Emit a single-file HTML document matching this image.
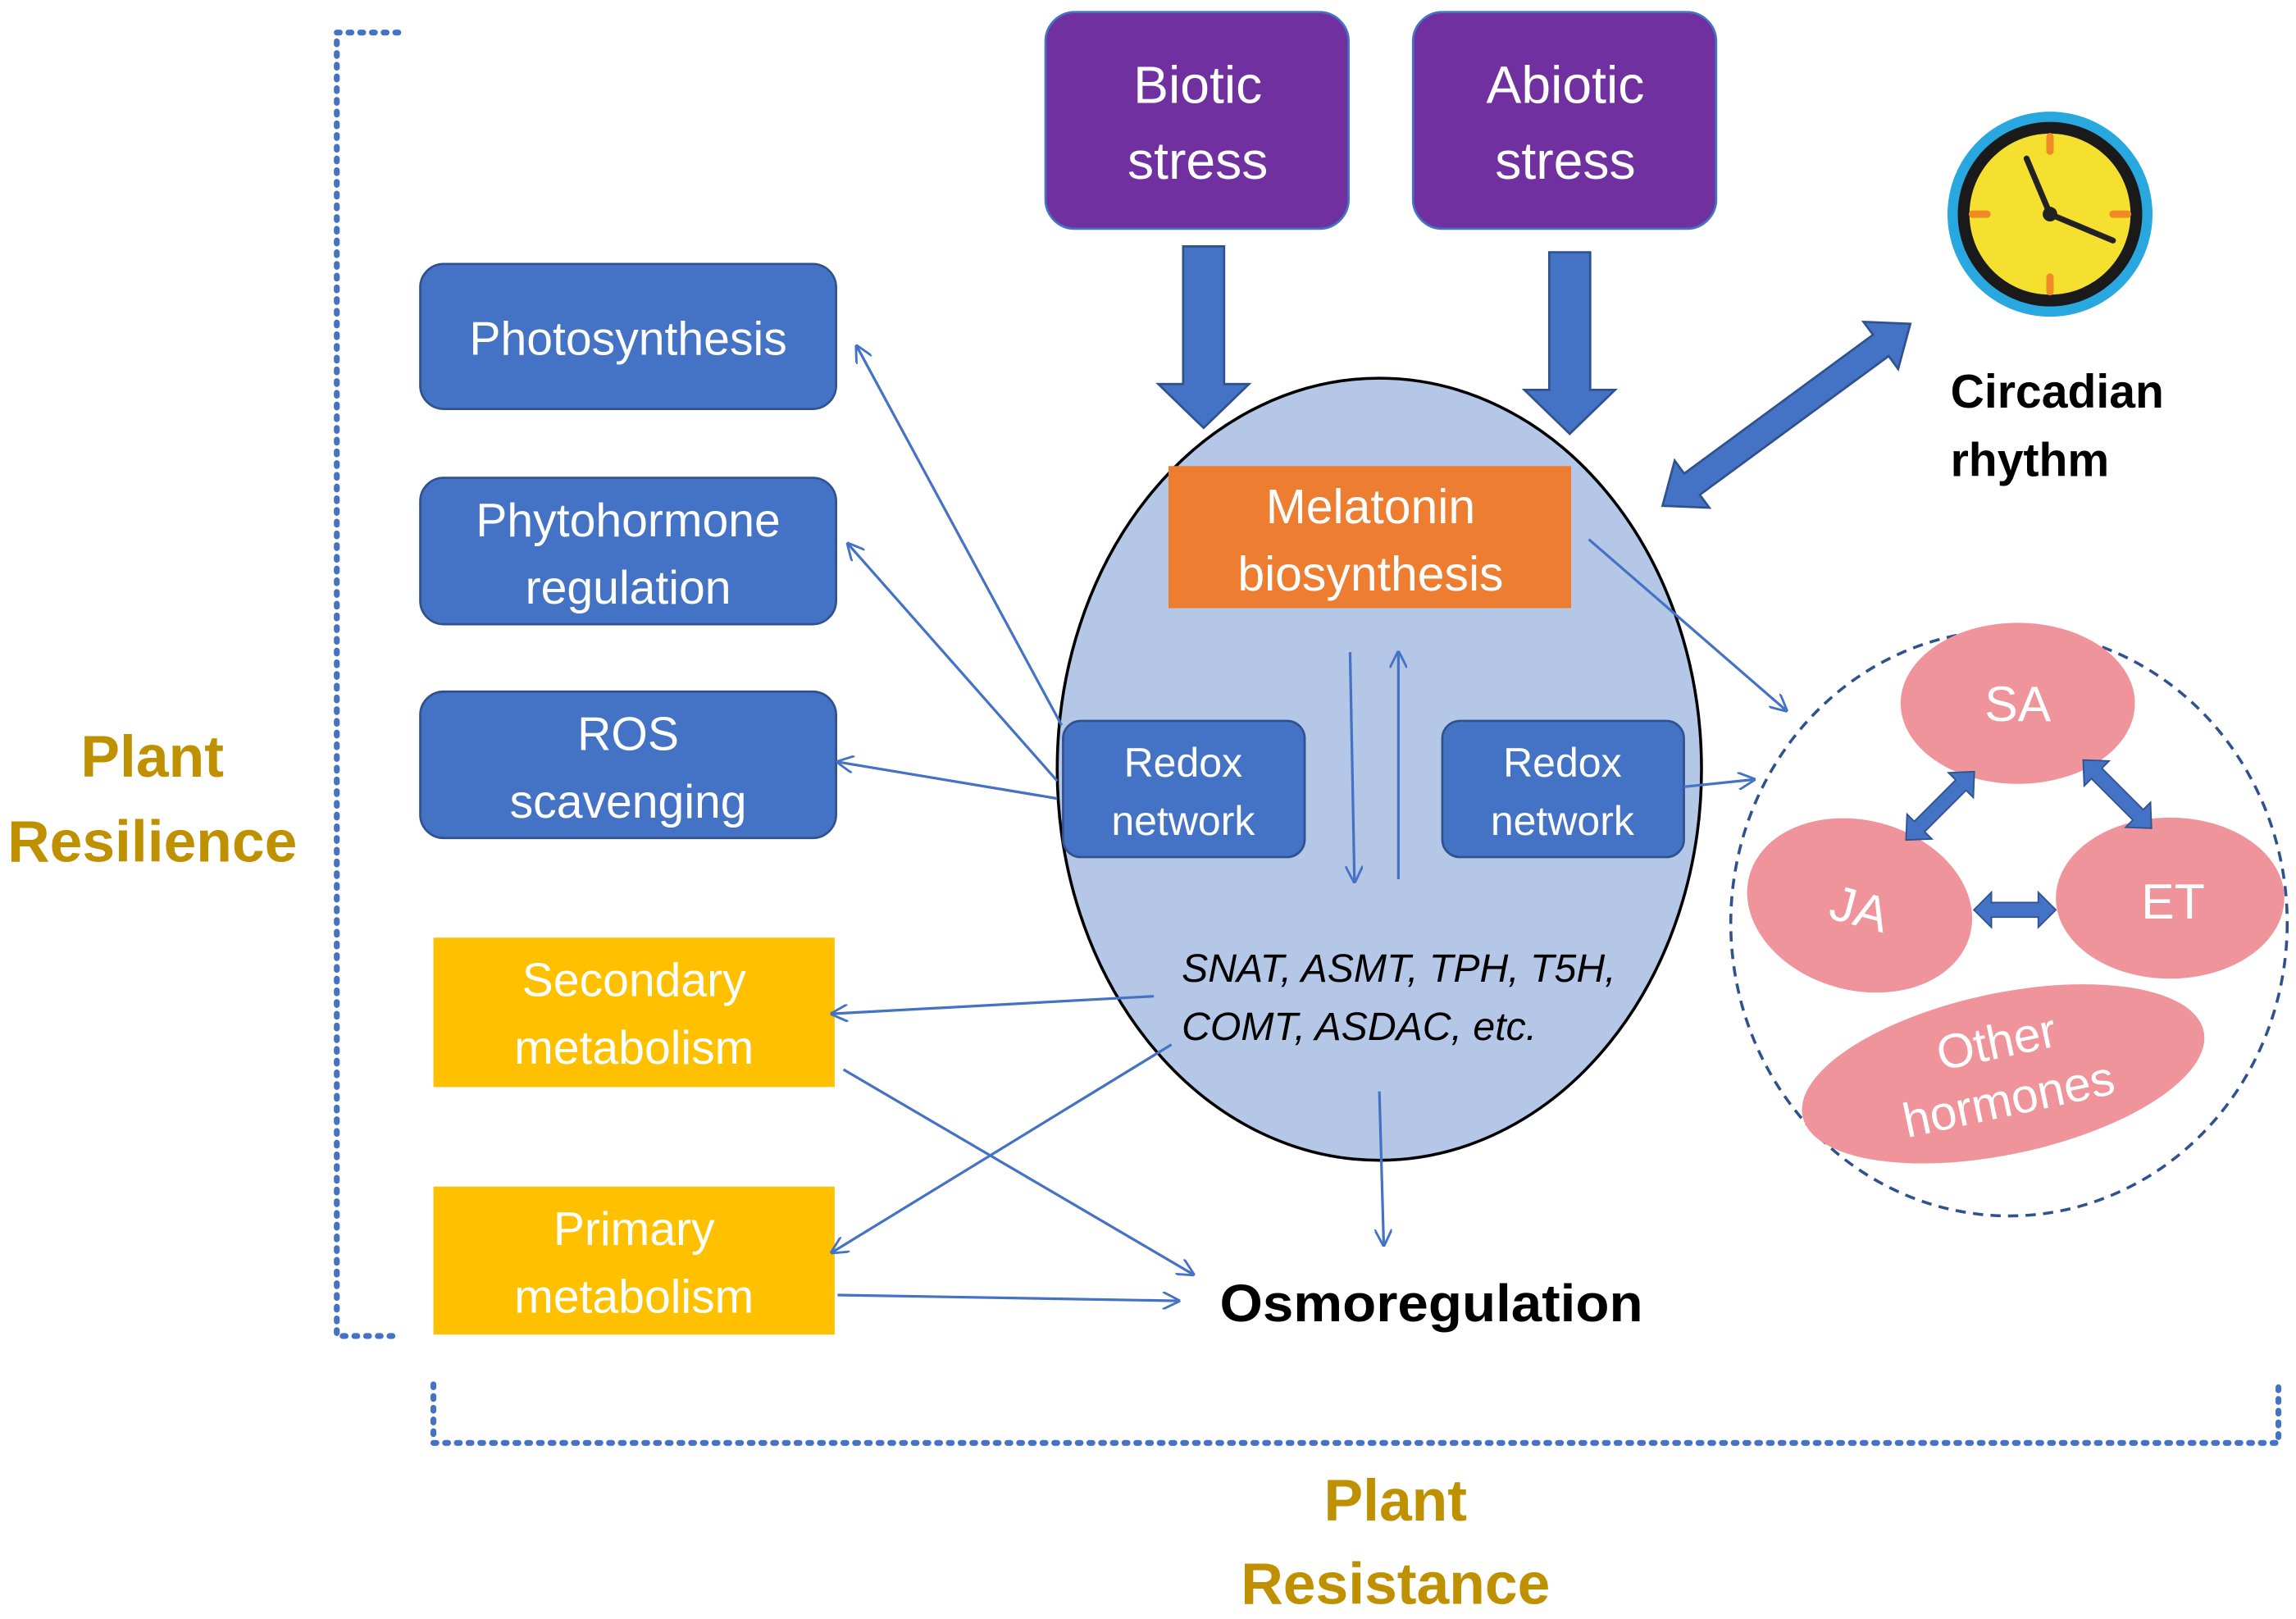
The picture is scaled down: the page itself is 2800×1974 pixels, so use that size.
<!DOCTYPE html>
<html><head><meta charset="utf-8"><style>
html,body{margin:0;padding:0;background:#fff;}
svg{display:block;}
text{font-family:"Liberation Sans","DejaVu Sans",sans-serif;}
</style></head><body>
<svg width="2800" height="1974" viewBox="0 0 1568 1105" xmlns="http://www.w3.org/2000/svg">
<defs>
<marker id="ah" markerWidth="12" markerHeight="12" refX="11" refY="6" orient="auto" markerUnits="userSpaceOnUse">
<path d="M0,0 L12,6 L0,12" fill="none" stroke="#4472c4" stroke-width="1.6"/>
</marker>
</defs>
<!-- brackets -->
<g stroke="#4472c4" stroke-width="4" stroke-dasharray="2,6" stroke-linecap="round" fill="none">
<path d="M272,22 L230,22 L230,912 L272,912"/>
<path d="M296,945 L296,985 L1556,985 L1556,943"/>
</g>
<g fill="#bf9000" font-weight="bold" font-size="40" text-anchor="middle">
<text x="104" y="530">Plant</text><text x="104" y="588">Resilience</text>
<text x="953" y="1038">Plant</text><text x="953" y="1095">Resistance</text>
</g>
<!-- stress boxes -->
<rect x="714" y="8" width="207" height="148" rx="20" fill="#7030a0" stroke="#4472c4" stroke-width="1.5"/>
<rect x="965" y="8" width="207" height="148" rx="20" fill="#7030a0" stroke="#4472c4" stroke-width="1.5"/>
<g fill="#fff" font-size="36" text-anchor="middle">
<text x="818" y="70">Biotic</text><text x="818" y="122">stress</text>
<text x="1069" y="70">Abiotic</text><text x="1069" y="122">stress</text>
</g>
<!-- big arrows -->
<path d="M808,168 L836,168 L836,262 L853,262 L822,292 L791,262 L808,262Z" fill="#4472c4" stroke="#2f528f" stroke-width="1.5"/>
<path d="M1058,172 L1086,172 L1086,266 L1103,266 L1072,296 L1041,266 L1058,266Z" fill="#4472c4" stroke="#2f528f" stroke-width="1.5"/>
<!-- ellipse -->
<ellipse cx="942" cy="525" rx="220" ry="267" fill="#b4c7e7" stroke="#000" stroke-width="2"/>
<rect x="798" y="318" width="275" height="97" fill="#ed7d31"/>
<g fill="#fff" font-size="33" text-anchor="middle">
<text x="936" y="357">Melatonin</text><text x="936" y="403">biosynthesis</text>
</g>
<rect x="726" y="492" width="165" height="93" rx="12" fill="#4472c4" stroke="#2f528f" stroke-width="1.5"/>
<rect x="985" y="492" width="165" height="93" rx="12" fill="#4472c4" stroke="#2f528f" stroke-width="1.5"/>
<g fill="#fff" font-size="28" text-anchor="middle">
<text x="808" y="530">Redox</text><text x="808" y="570">network</text>
<text x="1067" y="530">Redox</text><text x="1067" y="570">network</text>
</g>
<g font-size="27" font-style="italic" fill="#000">
<text x="807" y="670">SNAT, ASMT, TPH, T5H,</text>
<text x="807" y="710">COMT, ASDAC, etc.</text>
</g>
<!-- left boxes -->
<g fill="#4472c4" stroke="#2f528f" stroke-width="1.5">
<rect x="287" y="180" width="284" height="99" rx="16"/>
<rect x="287" y="326" width="284" height="100" rx="16"/>
<rect x="287" y="472" width="284" height="100" rx="16"/>
</g>
<rect x="296" y="640" width="274" height="102" fill="#ffc000"/>
<rect x="296" y="810" width="274" height="101" fill="#ffc000"/>
<g fill="#fff" font-size="32" text-anchor="middle">
<text x="429" y="242">Photosynthesis</text>
<text x="429" y="366">Phytohormone</text><text x="429" y="412">regulation</text>
<text x="429" y="512">ROS</text><text x="429" y="558">scavenging</text>
<text x="433" y="680">Secondary</text><text x="433" y="726">metabolism</text>
<text x="433" y="850">Primary</text><text x="433" y="896">metabolism</text>
</g>
<text x="833" y="902" font-size="36" font-weight="bold" fill="#000" textLength="289" lengthAdjust="spacingAndGlyphs">Osmoregulation</text>
<!-- clock -->
<circle cx="1400" cy="146" r="70" fill="#29a8e0"/>
<circle cx="1400" cy="146" r="63" fill="#1a1a1a"/>
<circle cx="1400" cy="146" r="55" fill="#f5e030"/>
<g stroke="#f08a24" stroke-width="5" stroke-linecap="round">
<line x1="1400" y1="93" x2="1400" y2="103"/><line x1="1400" y1="189" x2="1400" y2="199"/>
<line x1="1347" y1="146" x2="1357" y2="146"/><line x1="1443" y1="146" x2="1453" y2="146"/>
</g>
<g stroke="#222" stroke-width="4" stroke-linecap="round">
<line x1="1400" y1="146" x2="1384" y2="108"/><line x1="1400" y1="146" x2="1443" y2="164"/>
</g>
<circle cx="1400" cy="146" r="5" fill="#222"/>
<g font-size="32" font-weight="bold" fill="#000">
<text x="1332" y="278">Circadian</text><text x="1332" y="325">rhythm</text>
</g>
<!-- double thick arrow -->
<g transform="translate(1220,283) rotate(-36.3)">
<path d="M-105,0 L-80,-20 L-80,-9 L80,-9 L80,-20 L105,0 L80,20 L80,9 L-80,9 L-80,20Z" fill="#4472c4" stroke="#2f528f" stroke-width="1.5"/>
</g>
<!-- hormones -->
<ellipse cx="1372" cy="630" rx="190" ry="200" fill="none" stroke="#2f528f" stroke-width="2" stroke-dasharray="7,5"/>
<g fill="#f0949c">
<ellipse cx="1378" cy="480" rx="80" ry="55"/>
<ellipse cx="1270" cy="618" rx="78" ry="58" transform="rotate(15 1270 618)"/>
<ellipse cx="1482" cy="613" rx="78" ry="55"/>
<ellipse cx="1368" cy="733" rx="140" ry="55" transform="rotate(-12 1368 733)"/>
</g>
<g fill="#fff" font-size="34" text-anchor="middle">
<text x="1378" y="492">SA</text>
<text x="1270" y="632" transform="rotate(15 1270 620)">JA</text>
<text x="1484" y="627">ET</text>
<g transform="rotate(-12 1368 733)"><text x="1368" y="722" font-size="33">Other</text><text x="1368" y="762" font-size="33">hormones</text></g>
</g>
<g fill="#4472c4" stroke="#2f528f" stroke-width="1">
<g transform="translate(1325,550) rotate(-45)"><path d="M-33,0 L-20,-12 L-20,-5 L20,-5 L20,-12 L33,0 L20,12 L20,5 L-20,5 L-20,12Z"/></g>
<g transform="translate(1446,542) rotate(45)"><path d="M-33,0 L-20,-12 L-20,-5 L20,-5 L20,-12 L33,0 L20,12 L20,5 L-20,5 L-20,12Z"/></g>
<g transform="translate(1376,621)"><path d="M-28,0 L-16,-12 L-16,-5 L16,-5 L16,-12 L28,0 L16,12 L16,5 L-16,5 L-16,12Z"/></g>
</g>
<!-- thin arrows -->
<g stroke="#4472c4" stroke-width="1.8" fill="none" marker-end="url(#ah)">
<line x1="725" y1="495" x2="585" y2="236"/>
<line x1="722" y1="533" x2="579" y2="371"/>
<line x1="722" y1="545" x2="572" y2="520"/>
<line x1="1085" y1="368" x2="1220" y2="485"/>
<line x1="1150" y1="537" x2="1198" y2="532"/>
<line x1="922" y1="445" x2="925" y2="602"/>
<line x1="955" y1="600" x2="955" y2="445"/>
<line x1="788" y1="680" x2="568" y2="692"/>
<line x1="800" y1="713" x2="568" y2="855"/>
<line x1="576" y1="730" x2="815" y2="870"/>
<line x1="572" y1="884" x2="805" y2="888"/>
<line x1="942" y1="745" x2="945" y2="850"/>
</g>
</svg>
</body></html>
